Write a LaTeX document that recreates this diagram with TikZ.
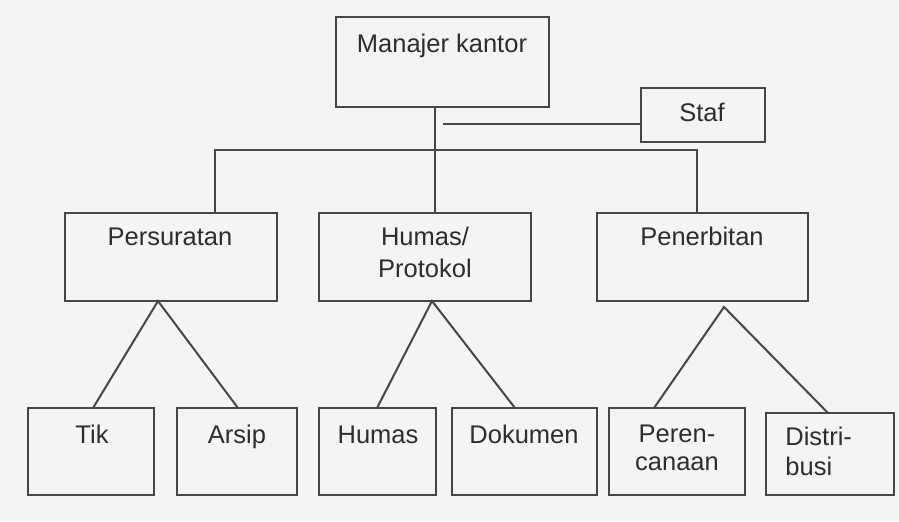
\documentclass[tikz,border=0pt]{standalone}
\usepackage{fontspec}
\setmainfont{Liberation Sans}
\usetikzlibrary{calc}
\definecolor{bg}{RGB}{244,244,244}
\definecolor{ln}{RGB}{70,70,70}
\definecolor{tx}{RGB}{45,45,45}
\begin{document}
\begin{tikzpicture}[x=0.5pt,y=-0.5pt,
  bx/.style={draw=ln, line width=1pt, inner sep=0pt, outer sep=0pt},
  lbl/.style={text=tx, font=\fontsize{12.75}{16}\selectfont, inner sep=0pt, anchor=base, align=center},
  conn/.style={draw=ln, line width=1pt}]
\fill[bg] (0,0) rectangle (899,521);
\useasboundingbox (0,0) rectangle (899,521);

% boxes
\node[bx, minimum width=106.5pt, minimum height=45pt] (mgr) at (442.5,62) {};
\node[bx, minimum width=62pt, minimum height=27pt] (staf) at (703,115) {};
\node[bx, minimum width=106pt, minimum height=44pt] (ps) at (171,257) {};
\node[bx, minimum width=106pt, minimum height=44pt] (hp) at (425,257) {};
\node[bx, minimum width=105.5pt, minimum height=44pt] (pn) at (702.5,257) {};
\node[bx, minimum width=63pt, minimum height=43.5pt] (tik) at (91,451.5) {};
\node[bx, minimum width=60pt, minimum height=43.5pt] (ars) at (237,451.5) {};
\node[bx, minimum width=58.5pt, minimum height=43.5pt] (hum) at (377.5,451.5) {};
\node[bx, minimum width=72.5pt, minimum height=43.5pt] (dok) at (524.5,451.5) {};
\node[bx, minimum width=68pt, minimum height=43.5pt] (per) at (677,451.5) {};
\node[bx, minimum width=64pt, minimum height=41pt] (dis) at (830,454) {};

% texts (multi-line: anchored at the last line's baseline)
\node[lbl] (tmgr) at (442,52) {Manajer kantor};
\node[lbl] (tstaf) at (702,121) {Staf};
\node[lbl] (tps) at (170,245) {Persuratan};
\node[lbl] (thp) at (425,277) {Humas/\\[0pt]Protokol};
\node[lbl] (tpn) at (702,245) {Penerbitan};
\node[lbl] (ttik) at (92,443) {Tik};
\node[lbl] (tars) at (237,443) {Arsip};
\node[lbl] (thum) at (378,443) {Humas};
\node[lbl] (tdok) at (524,443) {Dokumen};
\node[lbl, align=center] (tper) at (677,470) {Peren-\\[-2pt]canaan};
\node[lbl, align=left, anchor=base west] (tdis) at (785,475) {Distri-\\[-1pt]busi};

% connectors
\coordinate (mb) at ($(mgr.south west)+(99,0)$);
\draw[conn] (mb) -- (mb |- hp.north);
\coordinate (bl) at (215,150);
\coordinate (br) at (697,150);
\draw[conn] (bl |- ps.north) -- (bl) -- (br) -- (br |- pn.north);
\coordinate (sl) at (443,124);
\draw[conn] (sl) -- (sl -| staf.west);

\coordinate (pa) at ($(ps.south west)+(93,0)$);
\draw[conn] ($(tik.north west)+(65,0)$) -- (pa) -- ($(ars.north west)+(61,0)$);
\coordinate (ha) at ($(hp.south west)+(113,0)$);
\draw[conn] ($(hum.north west)+(58,0)$) -- (ha) -- ($(dok.north west)+(63,0)$);
\coordinate (na) at ($(pn.south west)+(127,6)$);
\draw[conn] ($(per.north west)+(45,0)$) -- (na) -- ($(dis.north west)+(62,0)$);
\end{tikzpicture}
\end{document}
